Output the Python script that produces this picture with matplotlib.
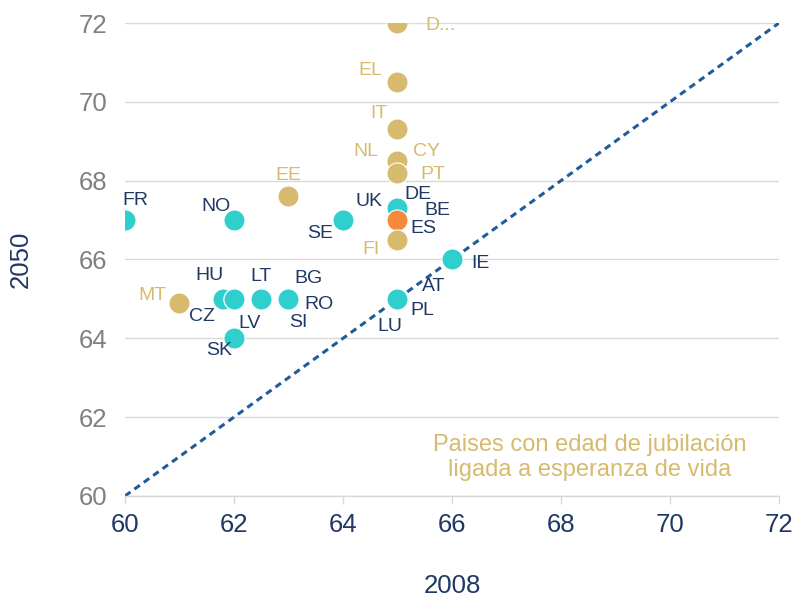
import matplotlib
matplotlib.use("Agg")
import matplotlib.pyplot as plt

plt.rcParams['font.family'] = ['Liberation Sans', 'DejaVu Sans']

# Data
countries = ["FR", "NO", "HU", "CZ", "LT", "LV", "SK", "BG", "RO", "SI",
             "MT", "EE", "SE", "UK", "DE", "BE", "ES", "FI", "IE",
             "AT", "PL", "LU", "D...", "EL", "IT", "NL", "CY", "PT"]
age_2008 = [60, 62, 61.8, 62, 62.5, 62, 62, 63, 63, 63,
            61, 63, 64, 65, 65, 65, 65, 65, 66,
            65, 65, 65, 65, 65, 65, 65, 65, 65]
age_2050 = [67, 67, 65, 65, 65, 65, 64, 65, 65, 65,
            64.9, 67.6, 67, 67.3, 67.3, 67.3, 67, 66.5, 66,
            65, 65, 65, 72, 70.5, 69.3, 68.5, 68.5, 68.2]
group = ["t", "t", "t", "t", "t", "t", "t", "t", "t", "t",
         "g", "g", "t", "t", "t", "t", "o", "g", "t",
         "t", "t", "t", "g", "g", "g", "g", "g", "g"]
xticks = [60, 62, 64, 66, 68, 70, 72]
yticks = [60, 62, 64, 66, 68, 70, 72]
note = "Paises con edad de jubilación\nligada a esperanza de vida"

# Style
colors = {"t": "#2ECFCC", "g": "#D6BA6E", "o": "#F58A3C"}
text_colors = {"t": "#1F3864", "g": "#D6BA6E", "o": "#1F3864"}
offsets = [(10, 20), (-18, 14), (-14, 23), (-32, -18), (0, 22), (16, -25), (-15, -12),
           (20, 20), (31, -6), (10, -24),
           (-27, 7), (0, 21), (-23, -13), (-28, 7), (20, 14), (40, -2), (26, -8),
           (-26, -10), (28, -4),
           (36, 12), (25, -12), (-8, -28), (43, -2), (-27, 12), (-19, 16), (-32, 9),
           (29, 9), (35, -2)]

fig = plt.figure(figsize=(7.99, 5.99), dpi=100)
ax = fig.add_axes([0.1564, 0.172, 0.8186, 0.7896])

ax.plot([xticks[0], xticks[-1]], [yticks[0], yticks[-1]], linestyle=(0, (2.2, 1.6)),
        color="#1F5C99", linewidth=2.2, zorder=2)

for c, x, y, g in zip(countries, age_2008, age_2050, group):
    ax.scatter([x], [y], s=230, color=colors[g], edgecolors="white", linewidths=0.8, zorder=3)

for c, x, y, g, (dx, dy) in zip(countries, age_2008, age_2050, group, offsets):
    ax.annotate(c, (x, y), xytext=(dx * 0.72, dy * 0.72), textcoords="offset points",
                ha="center", va="center", fontsize=14, color=text_colors[g], zorder=4)

ax.set_xlim(xticks[0], xticks[-1])
ax.set_ylim(yticks[0], yticks[-1])
ax.set_xticks(xticks)
ax.set_yticks(yticks)
ax.grid(axis="y", color="#D9D9D9", linewidth=1.0, zorder=0)
ax.set_axisbelow(True)
for s in ["top", "right", "left"]:
    ax.spines[s].set_visible(False)
ax.spines["bottom"].set_color("#D9D9D9")
ax.spines["bottom"].set_linewidth(1.0)
ax.tick_params(axis="x", colors="#D9D9D9", length=6, width=1.0, labelsize=18.5,
               labelcolor="#1F3864", pad=6)
ax.tick_params(axis="y", length=0, labelsize=18.5, labelcolor="#808080", pad=13)
ax.set_xlabel("2008", fontsize=18.5, color="#1F3864", labelpad=27)
ax.set_ylabel("2050", fontsize=18.5, color="#1F3864", labelpad=33)

ax.text(68.53, 60.98, note, ha="center", va="center", fontsize=17, color="#D6BA6E",
        linespacing=1.15, zorder=4)

fig.savefig("out.png", dpi=100)
